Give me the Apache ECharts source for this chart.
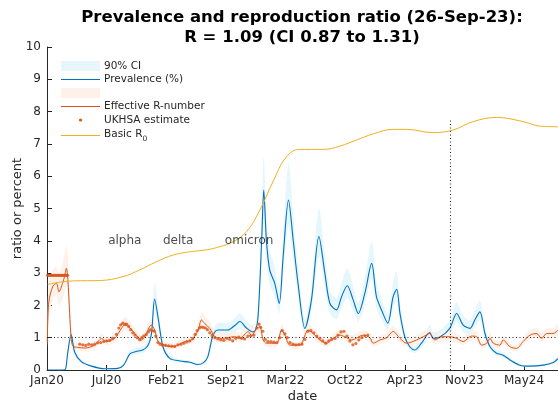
<!DOCTYPE html>
<html><head><meta charset="utf-8">
<script src="https://cdn.jsdelivr.net/npm/echarts/dist/echarts.min.js"></script>
<style>html,body{margin:0;padding:0;background:#fff}#c{width:558px;height:407px}</style>
</head><body><div id="c"></div>
<script>
// ---------- data (x values are days since START_DATE) ----------
const START_DATE = '2020-01-11';
const ANALYSIS_DATE = '2023-09-26';
const TICK_STEP_DAYS = 200;
const X_MAX_DAYS = 1714;

const prevDays = [2,56,63,69,81,93,115,149,194,237,257,278,298,321,338,350,361,373,389,412,446,479,506,524,539,556,573,606,630,647,669,690,700,708,720,727,736,747,764,779,792,810,826,842,865,887,912,932,949,971,988,1007,1027,1044,1066,1089,1105,1122,1143,1161,1173,1184,1200,1217,1234,1256,1284,1295,1318,1351,1374,1396,1419,1435,1452,1469,1486,1508,1530,1553,1586,1620,1665,1698,1714];
const prevalence = [0,0,0.05,0.5,1.1,0.55,0.26,0.12,0.04,0.05,0.15,0.5,0.57,0.62,0.75,1.1,2.2,1.6,0.72,0.36,0.28,0.24,0.17,0.22,0.4,1.05,1.24,1.24,1.38,1.5,1.3,1.18,1.25,1.65,4.0,5.57,4.0,3.1,2.68,2.06,3.5,5.26,4.0,2.68,1.29,2.17,4.13,3.0,2.06,1.86,2.27,2.61,2.17,1.75,2.37,3.3,2.27,1.86,1.45,2.27,2.5,1.75,1.03,0.72,0.62,0.83,1.16,0.98,1.02,1.29,1.75,1.39,1.29,1.55,1.8,1.13,0.72,0.52,0.46,0.31,0.15,0.12,0.15,0.23,0.35];
const prevLow = [0,0,0.03,0.42,0.93,0.47,0.22,0.1,0.03,0.04,0.12,0.43,0.49,0.53,0.64,0.93,1.85,1.36,0.61,0.3,0.24,0.2,0.14,0.19,0.34,0.89,1.05,1.05,1.17,1.27,1.1,1.0,1.06,1.4,3.4,4.7,3.4,2.63,2.28,1.75,2.97,4.45,3.4,2.28,1.1,1.84,3.5,2.55,1.75,1.58,1.93,2.22,1.84,1.49,2.01,2.8,1.93,1.58,1.23,1.93,2.12,1.49,0.88,0.61,0.53,0.7,0.99,0.83,0.87,1.1,1.49,1.18,1.1,1.32,1.53,0.96,0.61,0.44,0.39,0.26,0.13,0.1,0.13,0.2,0.3];
const prevHigh = [0,0,0.08,0.6,1.3,0.65,0.32,0.16,0.06,0.07,0.2,0.6,0.68,0.74,0.9,1.35,2.7,1.95,0.88,0.44,0.34,0.29,0.21,0.27,0.5,1.25,1.45,1.45,1.6,1.75,1.52,1.38,1.48,2.0,4.8,6.6,4.8,3.7,3.2,2.45,4.2,6.4,4.8,3.2,1.55,2.6,5.0,3.6,2.45,2.22,2.7,3.15,2.6,2.1,2.85,3.97,2.72,2.22,1.74,2.72,3.04,2.1,1.24,0.87,0.75,1.0,1.4,1.18,1.24,1.55,2.1,1.67,1.55,1.86,2.15,1.36,0.87,0.63,0.55,0.37,0.19,0.15,0.19,0.28,0.43];

const rDays = [1,6,20,32,40,52,59,65,70,76,81,87,103,127,160,183,199,227,250,261,278,295,317,328,350,361,373,395,417,440,462,485,507,518,529,546,563,585,630,647,675,686,703,714,725,736,770,787,798,815,848,876,893,915,938,960,982,1005,1022,1061,1083,1094,1117,1139,1161,1184,1206,1240,1262,1284,1301,1324,1351,1374,1396,1424,1441,1458,1475,1486,1497,1519,1530,1553,1575,1597,1620,1642,1659,1676,1698,1714];
const effectiveR = [0.85,2.1,2.6,2.68,2.42,2.68,2.9,3.15,2.8,1.75,1.0,0.74,0.7,0.68,0.77,0.97,0.88,0.98,1.29,1.4,1.3,1.13,0.93,1.03,1.39,1.24,0.88,0.77,0.72,0.77,0.88,0.93,1.24,1.55,1.44,1.29,1.03,0.98,1.03,0.98,1.19,1.05,1.29,1.34,0.93,0.83,0.83,1.24,1.08,0.77,0.77,1.24,1.13,0.93,0.83,0.98,1.08,1.0,0.93,1.08,1.0,0.83,0.93,1.0,1.19,0.98,0.83,0.93,1.03,1.13,0.93,1.03,1.03,0.98,0.88,1.05,1.03,0.77,0.83,0.98,0.83,0.77,0.93,0.72,0.67,0.88,1.08,1.13,0.98,1.13,1.13,1.24];
const rLow = [0.7,1.6,2.2,2.3,2.0,2.2,2.4,2.6,2.3,1.4,0.8,0.62,0.6,0.58,0.66,0.85,0.77,0.86,1.14,1.22,1.14,0.99,0.81,0.9,1.22,1.09,0.77,0.67,0.63,0.67,0.77,0.81,1.09,1.36,1.26,1.13,0.9,0.86,0.9,0.86,1.04,0.92,1.13,1.17,0.81,0.72,0.72,1.09,0.95,0.67,0.67,1.09,0.99,0.81,0.72,0.86,0.95,0.87,0.81,0.95,0.87,0.72,0.81,0.87,1.04,0.86,0.72,0.81,0.9,0.99,0.81,0.9,0.9,0.86,0.77,0.92,0.9,0.67,0.72,0.86,0.72,0.67,0.81,0.63,0.58,0.77,0.95,0.99,0.86,0.99,0.99,1.09];
const rHigh = [1.2,2.7,3.1,3.2,3.0,3.3,3.6,3.85,3.5,2.3,1.35,0.9,0.82,0.8,0.9,1.12,1.02,1.13,1.49,1.65,1.5,1.3,1.07,1.19,1.6,1.43,1.02,0.89,0.83,0.89,1.02,1.07,1.43,1.78,1.66,1.49,1.19,1.13,1.19,1.13,1.37,1.21,1.49,1.54,1.07,0.96,0.96,1.43,1.24,0.89,0.89,1.43,1.3,1.07,0.96,1.13,1.24,1.15,1.07,1.24,1.15,0.96,1.07,1.15,1.37,1.13,0.96,1.07,1.19,1.3,1.07,1.19,1.19,1.13,1.02,1.21,1.19,0.89,0.96,1.13,0.96,0.89,1.07,0.83,0.77,1.02,1.24,1.3,1.13,1.3,1.3,1.43];

const ukhsaDays = [2,6,10,14,18,22,26,30,34,38,42,46,50,54,58,62,66,69,110,120,130,140,150,160,170,180,190,200,210,220,233,241,247,254,261,267,274,281,288,295,303,311,318,325,333,340,346,353,360,365,372,380,388,398,408,418,428,439,449,459,469,479,489,497,504,511,517,524,531,538,546,554,563,573,583,593,603,613,623,633,643,653,663,674,684,694,704,711,717,724,732,741,751,761,771,781,789,798,806,815,825,835,845,855,865,875,885,895,905,915,925,935,945,955,966,976,986,996,1006,1016,1026,1036,1046,1056,1066,1076];
const ukhsaR = [2.93,2.93,2.93,2.93,2.93,2.93,2.93,2.93,2.93,2.93,2.93,2.93,2.93,2.93,2.93,2.93,2.93,2.93,0.8,0.78,0.76,0.8,0.78,0.8,0.84,0.85,0.88,0.9,0.92,0.98,1.1,1.3,1.4,1.45,1.42,1.42,1.35,1.25,1.15,1.08,1.0,0.94,1.0,1.06,1.1,1.18,1.24,1.22,1.2,1.05,0.85,0.8,0.77,0.76,0.75,0.74,0.73,0.78,0.8,0.83,0.87,0.9,0.97,1.1,1.22,1.3,1.33,1.32,1.3,1.25,1.15,1.07,1.0,0.96,0.93,0.92,0.98,0.95,0.9,0.98,1.02,0.98,0.96,1.05,1.06,1.08,1.3,1.42,1.32,1.2,0.95,0.88,0.88,0.86,0.85,1.0,1.22,1.12,1.0,0.85,0.8,0.78,0.79,0.8,0.95,1.2,1.22,1.15,1.05,0.98,0.9,0.83,0.9,0.95,0.98,1.08,1.18,1.2,1.05,0.9,0.78,0.82,0.93,1.0,1.06,1.08];

const r0Days = [2,43,93,177,255,311,367,423,479,535,580,624,669,714,758,803,848,926,982,1038,1094,1161,1206,1295,1362,1429,1508,1597,1653,1714];
const basicR0 = [2.65,2.72,2.76,2.77,2.89,3.1,3.35,3.56,3.66,3.72,3.82,3.97,4.28,4.95,5.83,6.6,6.83,6.83,6.93,7.12,7.31,7.45,7.45,7.35,7.43,7.69,7.82,7.69,7.55,7.53];

const variantNames = ['alpha','delta','omicron'];
const variantDays = [261,440,678];
const variantLabelLevel = 4;
const analysisLineTop = 7.8;

// ---------- helpers ----------
const C_BLUE = '#0072BD', C_ORANGE = '#D95319', C_YELLOW = '#EDB120';
const C_BLUE_BAND = '#E6F6FD', C_ORANGE_BAND = '#FDF1E9';
const TXT = '#262626', FONT = 'DejaVu Sans';
const DAY_MS = 86400000;
const T0 = Date.parse(START_DATE);
const toDay = s => Math.round((Date.parse(s) - T0) / DAY_MS);
const MONTHS = ['Jan','Feb','Mar','Apr','May','Jun','Jul','Aug','Sep','Oct','Nov','Dec'];
function fmtTick(v) {
  if (v % TICK_STEP_DAYS !== 0) return '';
  const d = new Date(T0 + v * DAY_MS);
  return MONTHS[d.getUTCMonth()] + String(d.getUTCFullYear()).slice(2);
}
const zip = (a, b) => a.map((d, i) => [d, b[i]]);
function band(days, lo, hi, color, z) {
  return {
    type: 'custom', silent: true, clip: true, z: z,
    data: days.map((d, i) => [d, lo[i], hi[i]]),
    encode: { x: 0, y: [1, 2] },
    renderItem: function (params, api) {
      if (params.dataIndex !== 0) return null;
      const up = days.map((d, i) => api.coord([d, hi[i]]));
      const dn = days.map((d, i) => api.coord([d, lo[i]])).reverse();
      return { type: 'polygon', shape: { points: up.concat(dn), smooth: 0.3 }, style: { fill: color } };
    }
  };
}
const analysisDay = toDay(ANALYSIS_DATE);

const chart = echarts.init(document.getElementById('c'), null, { renderer: 'canvas' });
const legendFont = '10.5px "DejaVu Sans"';
chart.setOption({
  animation: false,
  backgroundColor: '#ffffff',
  title: {
    text: 'Prevalence and reproduction ratio (26-Sep-23):\nR = 1.09 (CI 0.87 to 1.31)',
    left: 297, top: 3, textAlign: 'center',
    textStyle: { fontSize: 16.5, fontWeight: 'bold', fontFamily: FONT, color: '#000', lineHeight: 20 }
  },
  grid: { left: 47, right: 0, top: 47, bottom: 37, outerBoundsMode: 'none', containLabel: false },
  xAxis: {
    type: 'value', min: 0, max: X_MAX_DAYS, interval: TICK_STEP_DAYS,
    name: 'date', nameLocation: 'middle', nameGap: 20, nameMoveOverlap: false,
    nameTextStyle: { fontSize: 13, color: TXT, fontFamily: FONT },
    axisLine: { show: true, onZero: false, lineStyle: { color: TXT, width: 1 } },
    axisTick: { show: true, inside: true, length: 5, lineStyle: { color: TXT } },
    axisLabel: { formatter: fmtTick, fontSize: 12, color: TXT, fontFamily: FONT, margin: 5, showMaxLabel: false },
    splitLine: { show: false }
  },
  yAxis: {
    type: 'value', min: 0, max: 10, interval: 1,
    name: 'ratio or percent', nameLocation: 'middle', nameGap: 23, nameMoveOverlap: false,
    nameTextStyle: { fontSize: 13, color: TXT, fontFamily: FONT },
    axisLine: { show: true, lineStyle: { color: TXT, width: 1 } },
    axisTick: { show: true, inside: true, length: 5, lineStyle: { color: TXT } },
    axisLabel: { fontSize: 12, color: TXT, fontFamily: FONT, margin: 6 },
    splitLine: { show: false }
  },
  series: [
    band(prevDays, prevLow, prevHigh, C_BLUE_BAND, 1),
    band(rDays, rLow, rHigh, C_ORANGE_BAND, 2),
    { type: 'line', name: 'Prevalence (%)', data: zip(prevDays, prevalence), smooth: 0.3, showSymbol: false, z: 3,
      lineStyle: { color: C_BLUE, width: 1.1 }, itemStyle: { color: C_BLUE } },
    { type: 'line', name: 'Effective R-number', data: zip(rDays, effectiveR), smooth: 0.3, showSymbol: false, z: 4,
      lineStyle: { color: C_ORANGE, width: 1 }, itemStyle: { color: C_ORANGE },
      markLine: { silent: true, symbol: 'none', label: { show: false }, animation: false,
        lineStyle: { type: [1, 2.5], color: TXT, width: 1 },
        data: [ { yAxis: 1 }, [ { coord: [analysisDay, 0] }, { coord: [analysisDay, analysisLineTop] } ] ] } },
    { type: 'scatter', name: 'UKHSA estimate', data: zip(ukhsaDays, ukhsaR), symbol: 'circle', symbolSize: 3.2, z: 5,
      itemStyle: { color: C_ORANGE } },
    { type: 'line', name: 'Basic R0', data: zip(r0Days, basicR0), smooth: 0.4, showSymbol: false, z: 6,
      lineStyle: { color: C_YELLOW, width: 1 }, itemStyle: { color: C_YELLOW } },
    { type: 'scatter', name: 'variants', z: 7, symbolSize: 1, itemStyle: { color: 'transparent' },
      data: variantDays.map((d, i) => ({ value: [d, variantLabelLevel], name: variantNames[i] })),
      label: { show: true, position: 'inside', formatter: p => p.name, fontSize: 12, color: '#1a1a1a', fontFamily: FONT } }
  ],
  graphic: [
    { type: 'rect', shape: { x: 61, y: 61, width: 39, height: 10 }, style: { fill: C_BLUE_BAND } },
    { type: 'text', x: 104, y: 66, style: { text: '90% CI', font: legendFont, fill: TXT, verticalAlign: 'middle' } },
    { type: 'line', shape: { x1: 61, y1: 79.5, x2: 100, y2: 79.5 }, style: { stroke: C_BLUE, lineWidth: 1 } },
    { type: 'text', x: 104, y: 79.5, style: { text: 'Prevalence (%)', font: legendFont, fill: TXT, verticalAlign: 'middle' } },
    { type: 'rect', shape: { x: 61, y: 88, width: 39, height: 10 }, style: { fill: C_ORANGE_BAND } },
    { type: 'line', shape: { x1: 61, y1: 106.5, x2: 100, y2: 106.5 }, style: { stroke: C_ORANGE, lineWidth: 1 } },
    { type: 'text', x: 104, y: 106.5, style: { text: 'Effective R-number', font: legendFont, fill: TXT, verticalAlign: 'middle' } },
    { type: 'circle', shape: { cx: 80.5, cy: 120, r: 1.6 }, style: { fill: C_ORANGE } },
    { type: 'text', x: 104, y: 120, style: { text: 'UKHSA estimate', font: legendFont, fill: TXT, verticalAlign: 'middle' } },
    { type: 'line', shape: { x1: 61, y1: 135.5, x2: 100, y2: 135.5 }, style: { stroke: C_YELLOW, lineWidth: 1 } },
    { type: 'text', x: 104, y: 134, style: { text: 'Basic R', font: legendFont, fill: TXT, verticalAlign: 'middle' } },
    { type: 'text', x: 142.5, y: 139, style: { text: '0', font: '7.5px "DejaVu Sans"', fill: TXT, verticalAlign: 'middle' } }
  ]
});
</script>
</body></html>
